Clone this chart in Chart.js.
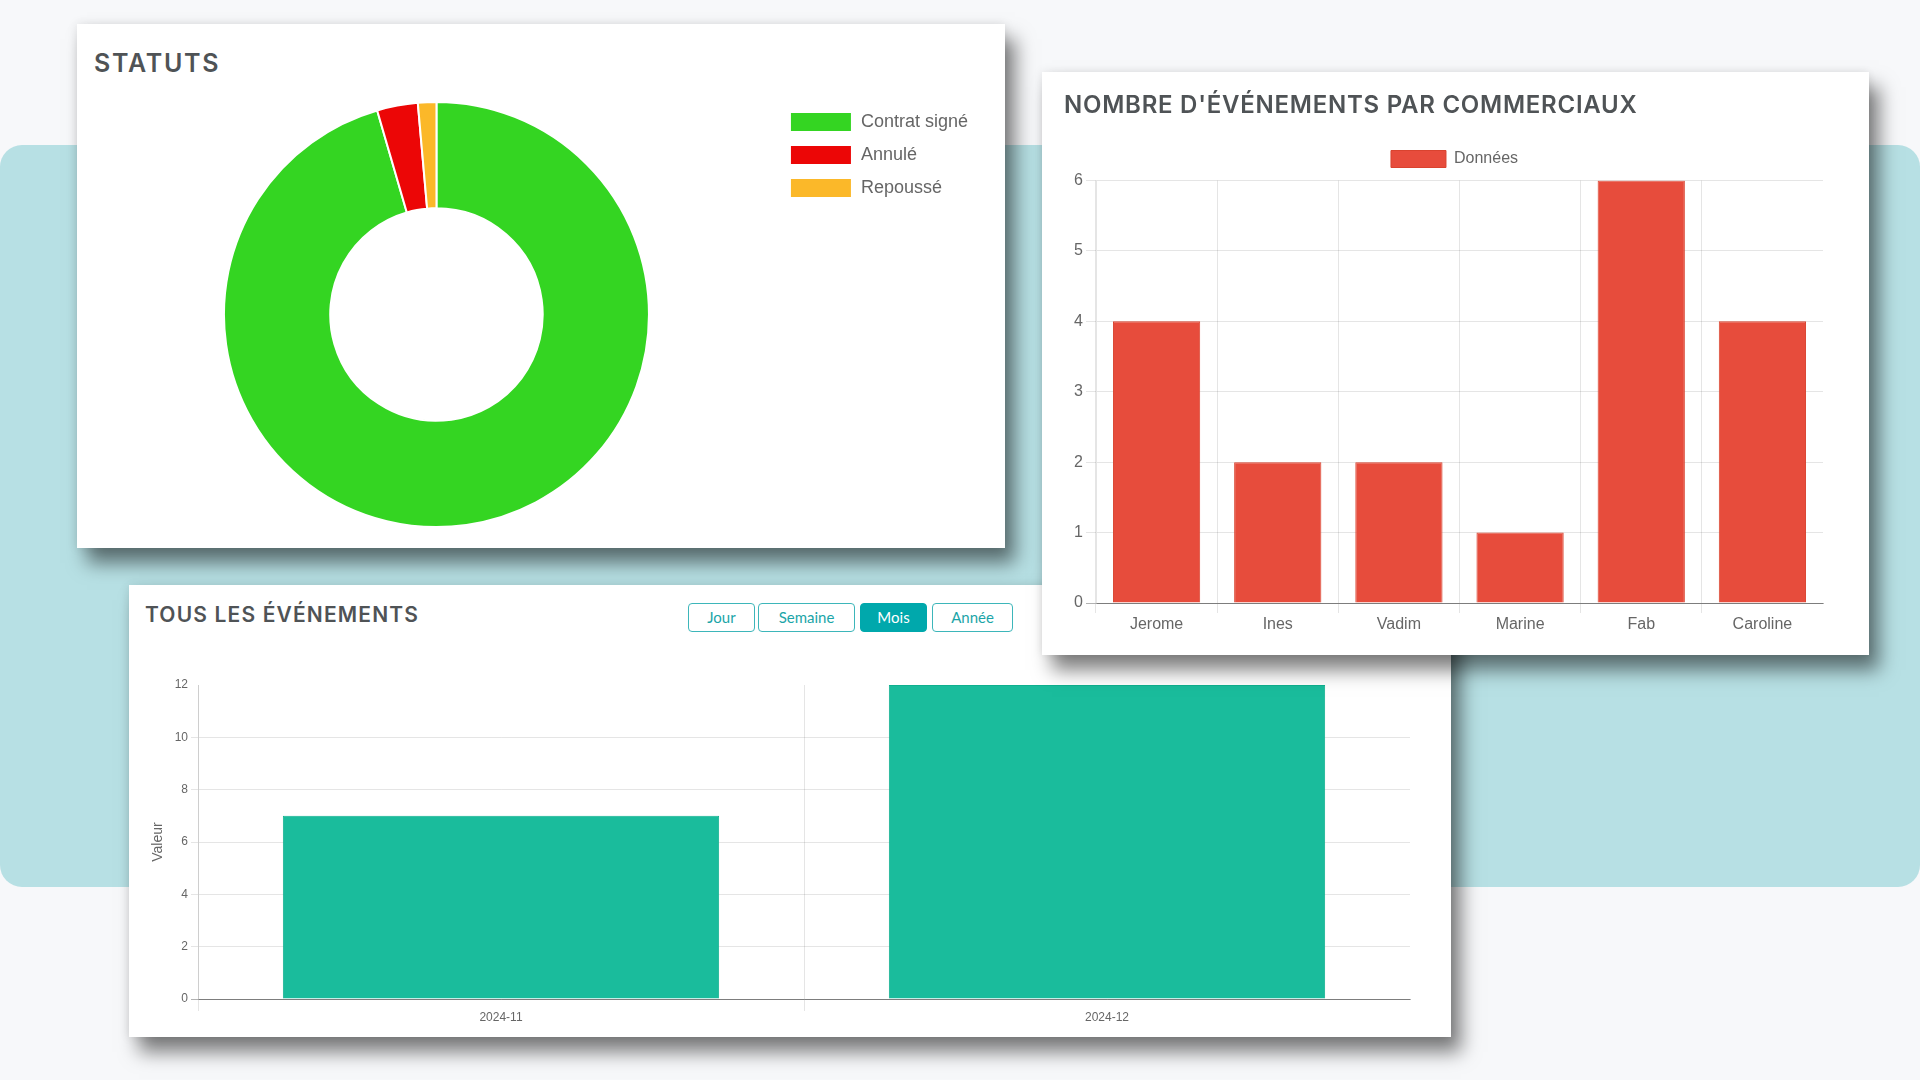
<!DOCTYPE html>
<html lang="fr">
<head>
<meta charset="utf-8">
<title>Tableau de bord</title>
<script src="https://cdn.jsdelivr.net/npm/chart.js@4"></script>
<style>
html, body { margin: 0; padding: 0; }
body { width: 1920px; height: 1080px; position: relative; overflow: hidden; background: #f7f8fa; }
.band { position: absolute; left: 0; top: 145px; width: 1920px; height: 742px; background: #b7e0e4; border-radius: 22px; }
.card { position: absolute; background: #fff; box-shadow: 10px 15px 18px rgba(0,0,0,.5), 0 0 10px rgba(0,0,0,.1); }
.card h2 { position: absolute; margin: 0; font-family: Inter, sans-serif; font-weight: 600; color: #4f5356; white-space: nowrap; }
canvas { position: absolute; }
.btn { position: absolute; box-sizing: border-box; top: 18px; height: 29px; text-align: center; font: 15px/26px Lato, sans-serif; color: #1ba5a8; background: #fff; border: 1.5px solid #3db6ba; border-radius: 4px; }
.btn.active { background: #00a8ac; color: #fff; border-color: #00a8ac; }
</style>
</head>
<body>
<div class="band"></div>

<div class="card" id="card-statuts" style="left:77px;top:24px;width:928px;height:524px">
  <h2 style="left:17px;top:24px;font-size:25px;letter-spacing:1.7px">STATUTS</h2>
  <canvas id="statuts" width="894" height="427" style="left:13px;top:77px"></canvas>
</div>

<div class="card" id="card-tous" style="left:129px;top:585px;width:1322px;height:452px">
  <h2 style="left:16px;top:17px;font-size:21px;letter-spacing:1.15px">TOUS LES ÉVÉNEMENTS</h2>
  <div class="btn" style="left:559px;width:67px">Jour</div>
  <div class="btn" style="left:629px;width:97px">Semaine</div>
  <div class="btn active" style="left:731px;width:67px">Mois</div>
  <div class="btn" style="left:803px;width:81px">Année</div>
  <canvas id="tous" width="1300" height="370" style="left:10px;top:80px"></canvas>
</div>

<div class="card" id="card-comm" style="left:1042px;top:72px;width:827px;height:583px">
  <h2 style="left:22px;top:18px;font-size:24px;letter-spacing:.75px">NOMBRE D'ÉVÉNEMENTS PAR COMMERCIAUX</h2>
  <canvas id="comm" width="800" height="510" style="left:10px;top:62px"></canvas>
</div>

<script>
const statutLabels = ["Contrat signé", "Annulé", "Repoussé"];
const statutValues = [95.5, 3.1, 1.4];
const statutColors = ["#34d522", "#ec0606", "#fbb829"];

const commerciaux = ["Jerome", "Ines", "Vadim", "Marine", "Fab", "Caroline"];
const commerciauxValues = [4, 2, 2, 1, 6, 4];

const mois = ["2024-11", "2024-12"];
const moisValues = [7, 12];

const FONT = "'Liberation Sans', Arial, sans-serif";
const GRID = "rgba(0, 0, 0, 0.1)";
const AXIS = "rgba(0, 0, 0, 0.3)";
const NONE = "rgba(0, 0, 0, 0)";

Chart.defaults.font.family = FONT;
Chart.defaults.color = "#666";
Chart.defaults.animation = false;
Chart.defaults.responsive = false;

// the legends in the reference do not sit where the layout would put them
const legendNudge = {
    id: "legendNudge",
    beforeDraw(chart, args, opts) {
        const { dx = 0, dy = 0 } = opts;
        chart.legend.left += dx;
        chart.legend.right += dx;
        chart.legend.top += dy;
        chart.legend.bottom += dy;
    }
};
Chart.register(legendNudge);

function buildBar(labels, values, color, border, opts) {
    return {
        type: "bar",
        data: {
            labels,
            datasets: [{ label: opts.name, data: values, backgroundColor: color, borderColor: border, borderWidth: 1 }]
        },
        options: {
            layout: { padding: opts.padding },
            plugins: {
                legendNudge: opts.nudge,
                legend: {
                    display: !!opts.name,
                    labels: { boxWidth: 55, boxHeight: 17, font: { size: opts.fontSize } }
                },
                tooltip: { enabled: false }
            },
            scales: {
                x: {
                    grid: { color: (ctx) => (ctx.tick ? GRID : NONE), tickLength: opts.xTick },
                    border: { color: AXIS },
                    ticks: { maxRotation: 0, padding: opts.xPad, font: { size: opts.fontSize } },
                    afterFit: (scale) => { scale.height = opts.xHeight; }
                },
                y: {
                    min: 0,
                    max: opts.max,
                    grid: {
                        color: (ctx) => {
                            if (ctx.tick && ctx.tick.value === 0) return AXIS;
                            return opts.hideTop && ctx.tick && ctx.tick.value === opts.max ? NONE : GRID;
                        },
                        tickLength: opts.yTick
                    },
                    border: { color: GRID },
                    ticks: { stepSize: opts.step, font: { size: opts.fontSize } },
                    title: opts.yTitle ? { display: true, text: opts.yTitle, font: { size: 14 }, padding: 0 } : { display: false },
                    afterFit: (scale) => { scale.width = opts.yWidth; }
                }
            }
        }
    };
}

new Chart(document.getElementById("statuts"), {
    type: "doughnut",
    data: {
        labels: statutLabels,
        datasets: [{ data: statutValues, backgroundColor: statutColors, borderColor: "#fff", borderWidth: 2 }]
    },
    options: {
        cutout: "50%",
        plugins: {
            tooltip: { enabled: false },
            legendNudge: { dx: -6, dy: -2 },
            legend: {
                position: "right",
                align: "start",
                labels: { boxWidth: 62, boxHeight: 20, padding: 13, color: "#666", font: { size: 18 } }
            }
        }
    }
});

new Chart(document.getElementById("comm"), buildBar(commerciaux, commerciauxValues, "#e74c3c", "#d9432f", {
    name: "Données",
    nudge: { dx: 17, dy: -3 },
    padding: { top: 9.5, right: 29, bottom: 0, left: 0 },
    fontSize: 16,
    xTick: 10,
    yTick: 10,
    xPad: 2,
    xHeight: 41,
    yWidth: 44,
    max: 6,
    step: 1
}));

new Chart(document.getElementById("tous"), buildBar(mois, moisValues, "#1abc9c", "#0fb08f", {
    name: "",
    nudge: {},
    padding: { top: 20, right: 29, bottom: 0, left: 11 },
    fontSize: 12,
    xTick: 12,
    yTick: 7,
    xPad: -1,
    xHeight: 36,
    yWidth: 48,
    max: 12,
    step: 2,
    hideTop: true,
    yTitle: "Valeur"
}));
</script>
</body>
</html>
